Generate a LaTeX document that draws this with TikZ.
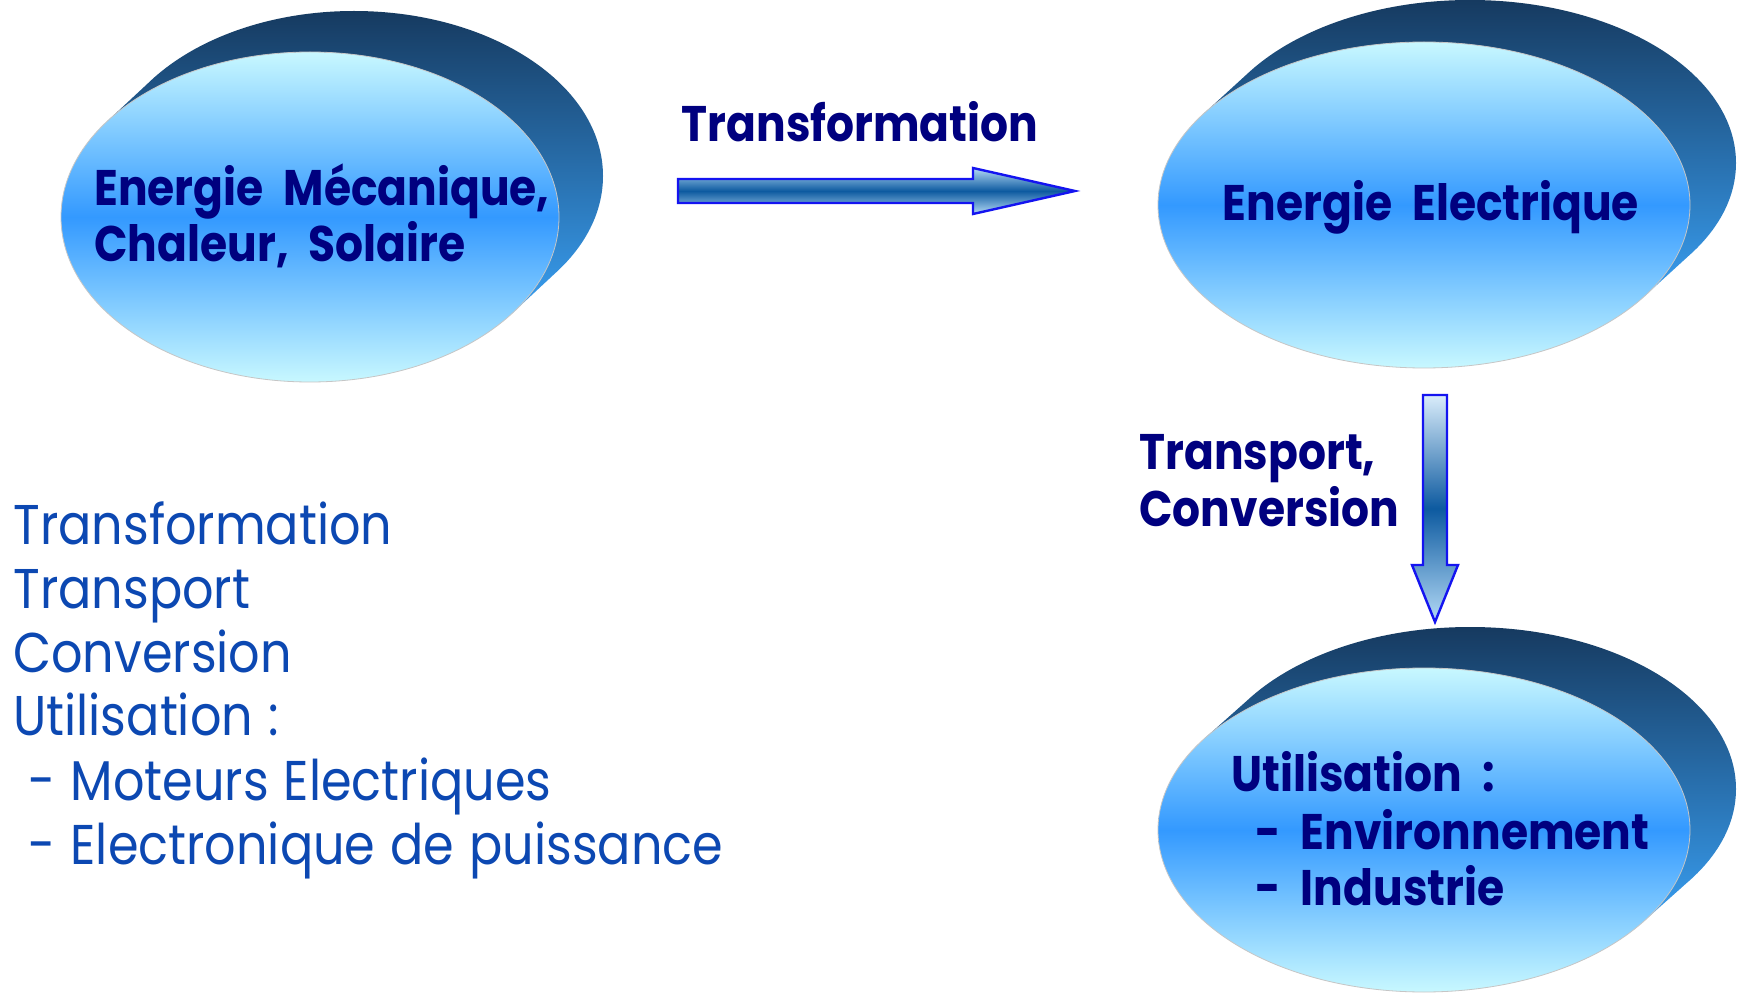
\documentclass[tikz,border=0pt]{standalone}
\usepackage{fontspec}
\newfontfamily\comic[FakeStretch=0.88]{Poppins}
\usetikzlibrary{calc}
\definecolor{navytxt}{HTML}{00007F}
\definecolor{listblue}{HTML}{0C48B2}
\definecolor{sidedark}{HTML}{163A60}
\definecolor{sidebright}{HTML}{3CA8FF}
\definecolor{frontlight}{HTML}{C8F8FF}
\definecolor{frontmid}{HTML}{3399FF}
\definecolor{arrline}{HTML}{1414F0}
\definecolor{arrlight}{HTML}{B4DAF6}
\definecolor{arrdark}{HTML}{0D5AA0}
\tikzset{
  sideshade/.style={top color=sidedark, bottom color=sidebright},
  frontshade/.style={top color=frontlight, bottom color=frontlight, middle color=frontmid, draw=gray!45, line width=0.4pt},
  boldlabel/.style={text=navytxt, font={\comic\bfseries\fontsize{25}{28}\selectfont\spaceskip=0.4em\relax}, inner sep=0pt},
  listtext/.style={text=listblue, font={\comic\fontsize{28}{32}\selectfont\spaceskip=0.27em\relax}, inner sep=0pt},
  blockarrow/.style={draw=arrline, line width=1.2pt, line join=miter},
}
\newcommand\cylinder[7]{% name, cx, cy, rx, ry, dx, dy
  \coordinate (#1) at (#2,#3);
  \pgfmathsetmacro\cyT{atan2(-(#5)*(#6),(#4)*(#7))}
  \pgfmathsetmacro\cyAx{#2-(#4)*cos(\cyT)}
  \pgfmathsetmacro\cyAy{#3-(#5)*sin(\cyT)}
  \pgfmathsetmacro\cyBx{#2+(#4)*cos(\cyT)}
  \pgfmathsetmacro\cyBy{#3+(#5)*sin(\cyT)}
  \pgfmathsetmacro\cyCx{\cyBx+#6}
  \pgfmathsetmacro\cyCy{\cyBy+#7}
  \pgfmathsetmacro\cyDx{\cyAx+#6}
  \pgfmathsetmacro\cyDy{\cyAy+#7}
  \pgfmathsetmacro\cyEx{#2+#6}
  \pgfmathsetmacro\cyEy{#3+#7}
  \shade[sideshade] (\cyEx,\cyEy) ellipse [x radius=#4, y radius=#5]
     (\cyAx,\cyAy) -- (\cyBx,\cyBy) -- (\cyCx,\cyCy) -- (\cyDx,\cyDy) -- cycle;
  \shade[frontshade] (#1) ellipse [x radius=#4, y radius=#5];
}
\begin{document}
\begin{tikzpicture}[x=0.5pt,y=0.5pt]
\useasboundingbox (0,0) rectangle (1742,993);
\fill[white] (0,0) rectangle (1742,993);

% cylinders (y measured upward)
\cylinder{meca}{310}{776}{249}{165}{44}{41}
\cylinder{elec}{1424}{788}{266}{163}{46}{42}
\cylinder{util}{1424}{163}{266}{162}{46}{41}

% texts in cylinders
\node[boldlabel, anchor=base west] (meca1) at (94,787) {Energie Mécanique,};
\node[boldlabel, anchor=base west] (meca2) at (94,731) {Chaleur, Solaire};
\node[boldlabel, anchor=base] (elec1) at (1431,772) {Energie Electrique};
\node[boldlabel, anchor=base west] (util1) at (1231,202) {Utilisation :};
\node[boldlabel, anchor=base west] (util2) at (1255,144) {- Environnement};
\node[boldlabel, anchor=base west] (util3) at (1255,88) {- Industrie};

% horizontal block arrow
\coordinate (h0) at (678,802);
\coordinate (h1) at (1075,802);
\shade[blockarrow, top color=arrlight, bottom color=arrlight, middle color=arrdark]
  ($(h0)+(0,12)$) -- (973,814) -- (973,825) -- (h1) -- (973,779) -- (973,790) -- ($(h0)+(0,-12)$) -- cycle;
\node[boldlabel, anchor=base] (lbltrans) at (860,851) {Transformation};

% vertical block arrow
\coordinate (v0) at (1435,598);
\coordinate (v1) at (1435,371);
\shade[blockarrow, top color=arrlight!50!white, bottom color=arrlight, middle color=arrdark]
  ($(v0)+(-12,0)$) -- ($(v0)+(12,0)$) -- (1447,428) -- (1458,428) -- (v1) -- (1412,428) -- (1423,428) -- cycle;
\node[boldlabel, anchor=base west] (lbltr1) at (1139,524) {Transport,};
\node[boldlabel, anchor=base west] (lbltr2) at (1139,467) {Conversion};

% left list
\node[listtext, anchor=base west] (l1) at (13,449) {Transformation};
\node[listtext, anchor=base west] (l2) at (13,385) {Transport};
\node[listtext, anchor=base west] (l3) at (13,321) {Conversion};
\node[listtext, anchor=base west] (l4) at (13,258) {Utilisation :};
\node[listtext, anchor=base west] (l5) at (28,193) {- Moteurs Electriques};
\node[listtext, anchor=base west] (l6) at (28,129) {- Electronique de puissance};
\end{tikzpicture}
\end{document}
